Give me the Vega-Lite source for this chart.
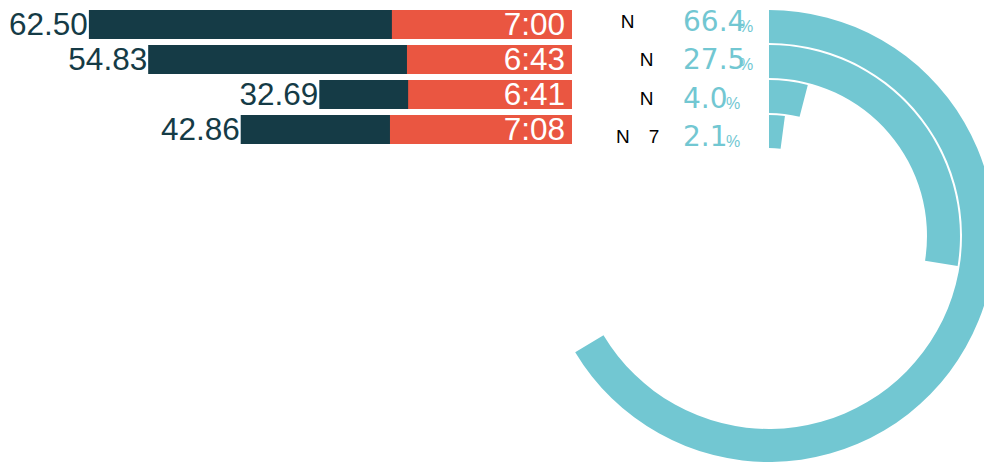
{
  "$schema": "https://vega.github.io/schema/vega-lite/v6.json",
  "padding": 0,
  "spacing": 0,
  "bounds": "flush",
  "config": {"view": {"stroke": null}, "axis": {"disable": true}, "font": "Liberation Sans"},
  "data": {"values": [
    {"id": "a", "score": 62.50, "sub": 23.3, "time": "7:00", "pct": 66.4, "tag": "N\u2003\u2003\u2007\u200B"},
    {"id": "b", "score": 54.83, "sub": 21.35, "time": "6:43", "pct": 27.5, "tag": "N\u2003\u2007\u200B"},
    {"id": "c", "score": 32.69, "sub": 21.2, "time": "6:41", "pct": 4.0, "tag": "N\u2003\u2007\u200B"},
    {"id": "d", "score": 42.86, "sub": 23.55, "time": "7:08", "pct": 2.1, "tag": "N\u20037\u2003\u2005\u200B"}
  ]},
  "hconcat": [
    {
      "width": 572,
      "height": 154,
      "encoding": {
        "y": {"field": "id", "type": "nominal", "sort": null, "axis": null,
              "scale": {"paddingInner": 0.1714, "paddingOuter": 0.2857}}
      },
      "layer": [
        {"mark": {"type": "bar", "color": "#153b46"},
         "encoding": {"x": {"field": "score", "type": "quantitative", "axis": null,
                            "scale": {"domain": [0, 74], "reverse": true, "nice": false}}}},
        {"mark": {"type": "bar", "color": "#ea5641"},
         "encoding": {"x": {"field": "sub", "type": "quantitative"}}},
        {"mark": {"type": "text", "align": "right", "baseline": "alphabetic", "dx": -1, "dy": 10.5, "fontSize": 31.5, "color": "#153b46"},
         "encoding": {"x": {"field": "score", "type": "quantitative"},
                      "text": {"field": "score", "type": "quantitative", "format": ".2f"}}},
        {"mark": {"type": "text", "align": "right", "baseline": "alphabetic", "dx": -7, "dy": 10.5, "fontSize": 31.5, "color": "#ffffff"},
         "encoding": {"x": {"datum": 0, "type": "quantitative"},
                      "text": {"field": "time", "type": "nominal"}}}
      ]
    },
    {
      "width": 111,
      "height": 154,
      "encoding": {
        "y": {"field": "id", "type": "nominal", "sort": null, "axis": null,
              "scale": {"paddingInner": 0.1714, "paddingOuter": 0.2857}}
      },
      "layer": [
        {"mark": {"type": "text", "x": "width", "align": "right", "baseline": "alphabetic", "dy": 8.5, "fontSize": 19, "color": "#000000"},
         "encoding": {"text": {"field": "tag", "type": "nominal"}}},
        {"mark": {"type": "text", "x": "width", "align": "left", "baseline": "alphabetic", "dy": 11.5, "fontSize": 28, "font": "DejaVu Sans", "color": "#72c7d2"},
         "encoding": {"text": {"field": "pct", "type": "quantitative", "format": ".1f"}}},
        {"transform": [{"filter": "datum.pct >= 10"}],
         "mark": {"type": "text", "x": "width", "text": "%", "align": "left", "baseline": "alphabetic", "dx": 56, "dy": 12.5, "fontSize": 16, "color": "#72c7d2"},
         "encoding": {}},
        {"transform": [{"filter": "datum.pct < 10"}],
         "mark": {"type": "text", "x": "width", "text": "%", "align": "left", "baseline": "alphabetic", "dx": 43, "dy": 12.5, "fontSize": 16, "color": "#72c7d2"},
         "encoding": {}}
      ]
    },
    {
      "width": 172,
      "height": 472,
      "mark": {"type": "arc", "color": "#72c7d2", "radius2Offset": -33},
      "encoding": {
        "theta": {"field": "pct", "type": "quantitative", "stack": null,
                  "scale": {"domain": [0, 100], "range": [0, 6.283185307]}},
        "theta2": {"datum": 0},
        "radius": {"field": "id", "type": "ordinal", "sort": null,
                   "scale": {"type": "point", "padding": 0, "domain": ["a", "b", "c", "d"], "range": [226, 121]}},
        "radius2": {"field": "id"}
      }
    }
  ]
}
